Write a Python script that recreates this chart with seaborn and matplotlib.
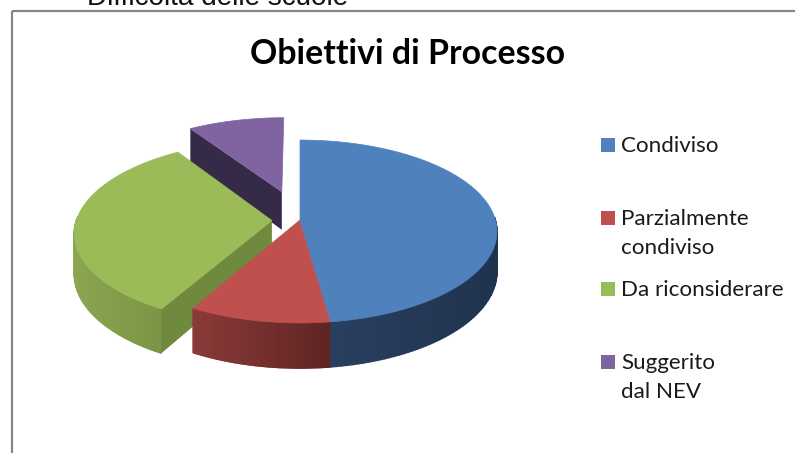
# Obiettivi di Processo - exploded 3D pie

import numpy as np
import matplotlib.pyplot as plt
import matplotlib.patches as mpatches
import seaborn as sns

categories = ["Condiviso", "Parzialmente\ncondiviso", "Da riconsiderare", "Suggerito\ndal NEV"]
shares = [47.8, 10.3, 32.7, 9.2]
explode = [0, 0, 0.144, 0.34]

colors = ["#4f81bd", "#c0504d", "#9bbb59", "#8064a2"]
wall_left = ["#2a3f5f", "#8a3a38", "#8aa650", "#352a47"]
wall_right = ["#1f334e", "#5e2422", "#7a9444", "#352a47"]
cut_colors = ["#24395a", "#5e2422", "#6f8a3e", "#352a47"]

sns.set_theme(style="white")
plt.rcParams['font.family'] = ['Lato', 'DejaVu Sans']

fig = plt.figure(figsize=(7.95, 4.53), dpi=100)
ax = fig.add_axes([0, 0, 1, 1])

# the pie gives angles and offsets, the perspective is done afterwards
wedges, _ = ax.pie(shares, explode=explode, startangle=90, counterclock=False)
ax.set_aspect('auto')
ax.set_xlim(0, 795)
ax.set_ylim(453, 0)
ax.axis('off')


def project(u, v):
    w = 1 + 0.1257 * v
    return 300 + 195.4 * u / w, 220 - 90 * v / w


def depth(v):
    return 39.5 / (1 + 0.1257 * v)


# back to front
for i in [3, 2, 1, 0]:
    wedge = wedges[i]
    wedge.set_visible(False)
    cx, cy = wedge.center
    t = np.radians(np.linspace(wedge.theta1, wedge.theta2, 120))
    u = cx + wedge.r * np.cos(t)
    v = cy + wedge.r * np.sin(t)
    x, y = project(u, v)
    d = depth(v)

    # outer wall, only the part turned to the viewer
    front = np.where(np.sin(t) < 0.05)[0]
    if len(front) > 1:
        shades = sns.blend_palette([wall_left[i], wall_right[i]], 40)
        for a, b in zip(front[:-1], front[1:]):
            if b != a + 1:
                continue
            pos = (x[a] - x[front].min()) / (x[front].max() - x[front].min())
            ax.fill([x[a], x[b], x[b], x[a]],
                    [y[a], y[b], y[b] + d[b], y[a] + d[a]],
                    color=shades[int(pos * 39)], lw=1.0)

    ax0, ay0 = project(cx, cy)
    d0 = depth(cy)
    # cut face of the detached slices, last point is the clockwise far end
    if i in (2, 3):
        ax.fill([x[-1], ax0, ax0, x[-1]], [y[-1], ay0, ay0 + d0, y[-1] + d[-1]],
                color=cut_colors[i], lw=0)

    ax.fill(np.r_[ax0, x], np.r_[ay0, y], color=colors[i], lw=0.5)

# slide frame and cut off text above it
ax.add_patch(mpatches.Rectangle((12, 11), 820, 480, fill=False, ec="#868686", lw=1.6, clip_on=False))
ax.text(87, 5, "Difficoltà delle scuole", fontsize=20.1, family="Liberation Sans",
        color="#111111", ha="left", va="baseline")

ax.text(408, 54, "Obiettivi di Processo", fontsize=24.4, fontweight="bold",
        color="black", ha="center", va="center")

# legend
legend_y = [145, 218, 289, 362]
for i, name in enumerate(categories):
    ax.add_patch(mpatches.Rectangle((601, legend_y[i] - 7), 14, 14, color=colors[i], lw=0))
    ax.text(621, legend_y[i] - 9, name, fontsize=16.1, color="#1a1a1a",
            ha="left", va="top", linespacing=1.56)

fig.savefig("out.png", dpi=100)
